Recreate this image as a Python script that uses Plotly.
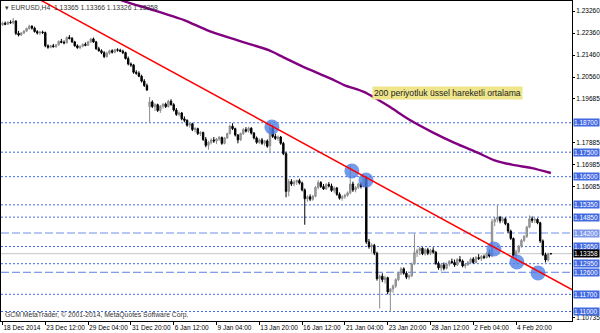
import plotly.graph_objects as go

# ---------------- data (EURUSD H4) ----------------
opens = [1.2270,1.2276,1.2272,1.2280,1.2278,1.2285,1.2235,1.2228,1.2236,1.2244,
1.2255,1.2264,1.2256,1.2242,1.2236,1.2240,1.2238,1.2184,1.2178,1.2184,
1.2180,1.2188,1.2202,1.2198,1.2196,1.2218,1.2214,1.2200,1.2184,1.2176,
1.2182,1.2190,1.2186,1.2200,1.2212,1.2200,1.2172,1.2164,1.2156,1.2140,
1.2154,1.2164,1.2158,1.2168,1.2166,1.2162,1.2156,1.2132,1.2110,1.2106,
1.2076,1.2072,1.2060,1.2040,1.2022,1.1935,1.1955,1.1936,1.1944,1.1920,
1.1938,1.1946,1.1936,1.1958,1.1944,1.1922,1.1904,1.1910,1.1886,1.1880,
1.1860,1.1866,1.1842,1.1846,1.1826,1.1830,1.1802,1.1778,1.1790,1.1800,
1.1796,1.1804,1.1810,1.1786,1.1808,1.1826,1.1856,1.1846,1.1820,1.1800,
1.1826,1.1842,1.1836,1.1848,1.1828,1.1808,1.1790,1.1800,1.1786,1.1796,
1.1776,1.1850,1.1814,1.1806,1.1812,1.1786,1.1744,1.1590,1.1630,1.1620,
1.1628,1.1634,1.1624,1.1596,1.1560,1.1568,1.1558,1.1570,1.1606,1.1626,
1.1610,1.1600,1.1618,1.1612,1.1594,1.1604,1.1578,1.1562,1.1568,1.1574,
1.1584,1.1620,1.1596,1.1606,1.1620,1.1610,1.1648,1.1384,1.1364,1.1370,
1.1338,1.1234,1.1244,1.1230,1.1238,1.1180,1.1192,1.1204,1.1230,1.1256,
1.1274,1.1256,1.1240,1.1246,1.1294,1.1340,1.1348,1.1358,1.1336,1.1352,
1.1338,1.1350,1.1342,1.1296,1.1278,1.1290,1.1276,1.1294,1.1304,1.1300,
1.1290,1.1312,1.1306,1.1286,1.1292,1.1300,1.1314,1.1300,1.1320,1.1316,
1.1324,1.1320,1.1338,1.1326,1.1466,1.1476,1.1484,1.1470,1.1478,1.1458,
1.1428,1.1398,1.1328,1.1344,1.1366,1.1390,1.1406,1.1444,1.1478,1.1472,
1.1476,1.1462,1.1388,1.1332,1.1310,1.13365]

highs = [1.2282,1.2283,1.2284,1.2288,1.2298,1.2288,1.2245,1.2240,1.2248,1.2258,
1.2270,1.2268,1.2262,1.2248,1.2244,1.2246,1.2242,1.2190,1.2188,1.2192,
1.2190,1.2206,1.2212,1.2206,1.2222,1.2228,1.2220,1.2204,1.2190,1.2186,
1.2194,1.2198,1.2204,1.2216,1.2218,1.2204,1.2180,1.2170,1.2162,1.2160,
1.2168,1.2170,1.2172,1.2174,1.2172,1.2168,1.2160,1.2140,1.2116,1.2110,
1.2084,1.2080,1.2066,1.2048,1.2030,1.1975,1.1962,1.1950,1.1948,1.1942,
1.1950,1.1952,1.1964,1.1966,1.1950,1.1930,1.1916,1.1914,1.1896,1.1884,
1.1872,1.1870,1.1852,1.1850,1.1836,1.1834,1.1812,1.1796,1.1806,1.1812,
1.1808,1.1816,1.1814,1.1812,1.1830,1.1862,1.1868,1.1850,1.1824,1.1830,
1.1848,1.1852,1.1854,1.1852,1.1832,1.1814,1.1806,1.1808,1.1800,1.1802,
1.1874,1.1862,1.1826,1.1818,1.1816,1.1792,1.1752,1.1640,1.1640,1.1636,
1.1638,1.1642,1.1630,1.1602,1.1574,1.1578,1.1576,1.1612,1.1636,1.1632,
1.1620,1.1624,1.1628,1.1622,1.1610,1.1608,1.1586,1.1574,1.1580,1.1590,
1.1698,1.1630,1.1612,1.1626,1.1628,1.1660,1.1652,1.1396,1.1378,1.1376,
1.1344,1.1250,1.1256,1.1246,1.1242,1.1196,1.1210,1.1236,1.1262,1.1282,
1.1280,1.1264,1.1252,1.1300,1.1418,1.1356,1.1364,1.1362,1.1358,1.1360,
1.1356,1.1362,1.1346,1.1304,1.1296,1.1300,1.1300,1.1310,1.1316,1.1312,
1.1318,1.1326,1.1312,1.1296,1.1306,1.1320,1.1322,1.1326,1.1334,1.1330,
1.1332,1.1344,1.1352,1.1478,1.1486,1.1534,1.1490,1.1484,1.1484,1.1462,
1.1434,1.1402,1.1352,1.1372,1.1396,1.1412,1.1450,1.1492,1.1488,1.1482,
1.1480,1.1466,1.1394,1.1340,1.1340,1.13366]

lows = [1.2265,1.2268,1.2270,1.2274,1.2272,1.2228,1.2222,1.2224,1.2232,1.2240,
1.2250,1.2250,1.2238,1.2230,1.2228,1.2232,1.2178,1.2172,1.2174,1.2178,
1.2176,1.2184,1.2194,1.2190,1.2194,1.2210,1.2196,1.2180,1.2172,1.2170,
1.2178,1.2182,1.2184,1.2196,1.2196,1.2168,1.2160,1.2150,1.2134,1.2136,
1.2148,1.2152,1.2154,1.2160,1.2158,1.2150,1.2128,1.2104,1.2098,1.2070,
1.2066,1.2056,1.2034,1.2016,1.2000,1.1870,1.1930,1.1918,1.1914,1.1910,
1.1928,1.1930,1.1932,1.1940,1.1916,1.1898,1.1896,1.1880,1.1872,1.1854,
1.1850,1.1836,1.1830,1.1820,1.1816,1.1796,1.1770,1.1760,1.1782,1.1788,
1.1784,1.1796,1.1780,1.1782,1.1804,1.1822,1.1840,1.1814,1.1786,1.1796,
1.1820,1.1830,1.1830,1.1822,1.1802,1.1784,1.1784,1.1780,1.1776,1.1768,
1.1746,1.1808,1.1800,1.1796,1.1780,1.1738,1.1566,1.1570,1.1612,1.1610,
1.1616,1.1618,1.1590,1.1454,1.1548,1.1550,1.1552,1.1566,1.1598,1.1604,
1.1596,1.1596,1.1606,1.1588,1.1584,1.1572,1.1556,1.1552,1.1560,1.1568,
1.1578,1.1588,1.1586,1.1600,1.1602,1.1606,1.1376,1.1356,1.1340,1.1330,
1.1226,1.1112,1.1220,1.1214,1.1170,1.1098,1.1176,1.1196,1.1224,1.1248,
1.1250,1.1232,1.1230,1.1240,1.1290,1.1322,1.1330,1.1330,1.1328,1.1330,
1.1330,1.1336,1.1290,1.1270,1.1264,1.1268,1.1272,1.1284,1.1294,1.1282,
1.1286,1.1300,1.1280,1.1276,1.1286,1.1296,1.1294,1.1296,1.1310,1.1306,
1.1314,1.1316,1.1320,1.1322,1.1448,1.1464,1.1460,1.1462,1.1452,1.1420,
1.1392,1.1320,1.1300,1.1338,1.1360,1.1384,1.1400,1.1440,1.1462,1.1460,
1.1456,1.1380,1.1326,1.1300,1.1304,1.13326]

closes = [1.2276,1.2272,1.2280,1.2278,1.2285,1.2235,1.2228,1.2236,1.2244,1.2255,
1.2264,1.2256,1.2242,1.2236,1.2240,1.2238,1.2184,1.2178,1.2184,1.2180,
1.2188,1.2202,1.2198,1.2196,1.2218,1.2214,1.2200,1.2184,1.2176,1.2182,
1.2190,1.2186,1.2200,1.2212,1.2200,1.2172,1.2164,1.2156,1.2140,1.2154,
1.2164,1.2158,1.2168,1.2166,1.2162,1.2156,1.2132,1.2110,1.2106,1.2076,
1.2072,1.2060,1.2040,1.2022,1.2004,1.1955,1.1936,1.1944,1.1920,1.1938,
1.1946,1.1936,1.1958,1.1944,1.1922,1.1904,1.1910,1.1886,1.1880,1.1860,
1.1866,1.1842,1.1846,1.1826,1.1830,1.1802,1.1778,1.1790,1.1800,1.1796,
1.1804,1.1810,1.1786,1.1808,1.1826,1.1856,1.1846,1.1820,1.1800,1.1826,
1.1842,1.1836,1.1848,1.1828,1.1808,1.1790,1.1800,1.1786,1.1796,1.1774,
1.1850,1.1814,1.1806,1.1812,1.1786,1.1744,1.1590,1.1630,1.1620,1.1628,
1.1634,1.1624,1.1596,1.1560,1.1568,1.1558,1.1570,1.1606,1.1626,1.1610,
1.1600,1.1618,1.1612,1.1594,1.1604,1.1578,1.1562,1.1568,1.1574,1.1584,
1.1620,1.1596,1.1606,1.1620,1.1610,1.1648,1.1384,1.1364,1.1370,1.1338,
1.1234,1.1244,1.1230,1.1238,1.1180,1.1192,1.1204,1.1230,1.1256,1.1274,
1.1256,1.1240,1.1246,1.1294,1.1340,1.1348,1.1358,1.1336,1.1352,1.1338,
1.1350,1.1342,1.1296,1.1278,1.1290,1.1276,1.1294,1.1304,1.1300,1.1290,
1.1312,1.1306,1.1286,1.1292,1.1300,1.1314,1.1300,1.1320,1.1316,1.1324,
1.1320,1.1338,1.1326,1.1466,1.1476,1.1484,1.1470,1.1478,1.1458,1.1428,
1.1398,1.1328,1.1344,1.1366,1.1390,1.1406,1.1444,1.1478,1.1472,1.1476,
1.1462,1.1388,1.1332,1.1310,1.1336,1.13358]

bar_index = list(range(len(closes)))

# time-axis labels (every 16 H4 bars)
tick_bars = [0, 16, 32, 48, 64, 80, 96, 112, 128, 144, 160, 176, 192]
tick_labels = ["18 Dec 2014", "23 Dec 12:00", "29 Dec 04:00", "31 Dec 20:00",
               "6 Jan 12:00", "9 Jan 04:00", "13 Jan 20:00", "16 Jan 12:00",
               "21 Jan 04:00", "23 Jan 20:00", "28 Jan 12:00", "2 Feb 04:00",
               "4 Feb 20:00"]

# price scale labels
scale_prices = [1.23260, 1.22360, 1.21460, 1.20560, 1.19685, 1.17885,
                1.16985, 1.16085, 1.10735]

# horizontal support / resistance levels
dotted_levels = [1.18700, 1.17500, 1.16500, 1.15350, 1.14850, 1.13650,
                 1.12950, 1.11700, 1.11000]
dashed_light_level = 1.14200
dashed_level = 1.12600
last_price = 1.13358

# 200-period EMA
ema_bar = [44, 46.2, 56.3, 67.9, 76.4, 85.0, 99.3, 104.9, 113.5, 122.1, 127.7,
           135.1, 139.3, 144.9, 152.3, 160.6, 169.2, 177.8, 183.7, 190.8,
           197.9, 205]
ema_val = [1.2372, 1.2363, 1.2330, 1.2289, 1.2248, 1.2216, 1.2167, 1.2138,
           1.2093, 1.2053, 1.2024, 1.1996, 1.1971, 1.1934, 1.1881, 1.1832,
           1.1787, 1.1747, 1.1718, 1.1698, 1.1685, 1.1665]

# trend line anchors
trend_bar = [10.0, 214.0]
trend_val = [1.23957, 1.11825]

# touch points (blue circles)
touch_bar = [100.7, 130.6, 135.9, 183.7, 192.3, 200.2]
touch_val = [1.1853, 1.1673, 1.1636, 1.1355, 1.1302, 1.1257]

ema_label = "200 periyotluk üssel hareketli ortalama"
ema_label_bar = 138.1
ema_label_val = 1.1993

# ---------------- figure ----------------
FONT = "Liberation Sans, Arial, sans-serif"
BLUE = "#4169E1"

fig = go.Figure()

fig.add_trace(go.Candlestick(
    x=bar_index, open=opens, high=highs, low=lows, close=closes,
    increasing=dict(line=dict(color="#8c8c8c", width=1), fillcolor="#a6a6a6"),
    decreasing=dict(line=dict(color="#000000", width=1), fillcolor="#000000"),
    hoverinfo="skip", showlegend=False))

fig.add_trace(go.Scatter(
    x=touch_bar, y=touch_val, mode="markers",
    marker=dict(size=15, color="rgba(75,125,230,0.78)", line=dict(width=0)),
    hoverinfo="skip", showlegend=False))

fig.add_trace(go.Scatter(
    x=trend_bar, y=trend_val, mode="lines",
    line=dict(color="#ff0000", width=1.5),
    hoverinfo="skip", showlegend=False))

fig.add_trace(go.Scatter(
    x=ema_bar, y=ema_val, mode="lines",
    line=dict(color="#800080", width=2.4, shape="spline", smoothing=0.6),
    hoverinfo="skip", showlegend=False))

shapes = []
for lv in dotted_levels:
    shapes.append(dict(type="line", xref="paper", x0=0, x1=1, yref="y", y0=lv, y1=lv,
                       line=dict(color=BLUE, width=1, dash="2px,2px"), layer="below"))
shapes.append(dict(type="line", xref="paper", x0=0, x1=1, yref="y",
                   y0=dashed_light_level, y1=dashed_light_level,
                   line=dict(color="#9fb5f0", width=1.6, dash="8px,3px"), layer="below"))
shapes.append(dict(type="line", xref="paper", x0=0, x1=1, yref="y",
                   y0=dashed_level, y1=dashed_level,
                   line=dict(color="#5f80e4", width=1, dash="8px,3px"), layer="below"))
shapes.append(dict(type="line", xref="paper", x0=0, x1=1, yref="y",
                   y0=last_price, y1=last_price,
                   line=dict(color="#c4c4c4", width=1), layer="below"))

annotations = []
for lv in dotted_levels + [dashed_light_level, dashed_level]:
    bg = "#7c98ea" if lv == dashed_light_level else BLUE
    annotations.append(dict(x=1, xref="paper", xanchor="left", xshift=1,
                            y=lv, yref="y", yanchor="middle",
                            text=f"{lv:.5f}", showarrow=False,
                            font=dict(family=FONT, size=6.5, color="white"),
                            bgcolor=bg, borderpad=0, width=25, height=7, align="left"))
annotations.append(dict(x=1, xref="paper", xanchor="left", xshift=1,
                        y=last_price, yref="y", yanchor="middle",
                        text=f"{last_price:.5f}", showarrow=False,
                        font=dict(family=FONT, size=6.5, color="white"),
                        bgcolor="#000000", borderpad=0, width=25, height=7, align="left"))

annotations.append(dict(x=ema_label_bar, y=ema_label_val, xref="x", yref="y",
                        xanchor="left", yanchor="middle", text=ema_label,
                        showarrow=False, bgcolor="#efe68c", borderpad=1,
                        font=dict(family=FONT, size=8.6, color="#222222")))

annotations.append(dict(x=0.004, y=0.981, xref="paper", yref="paper",
                        xanchor="left", yanchor="middle",
                        text="▾ EURUSD,H4  1.13365 1.13366 1.13326 1.13358",
                        showarrow=False,
                        font=dict(family=FONT, size=6.8, color="#333333")))
annotations.append(dict(x=0.004, y=0.019, xref="paper", yref="paper",
                        xanchor="left", yanchor="middle",
                        text="GCM MetaTrader, © 2001-2014, MetaQuotes Software Corp.",
                        showarrow=False,
                        font=dict(family=FONT, size=6.8, color="#333333")))

fig.update_layout(
    width=600, height=333,
    margin=dict(l=1, r=28, t=1, b=12, autoexpand=False),
    plot_bgcolor="white", paper_bgcolor="white",
    showlegend=False,
    boxgap=0.25,
    shapes=shapes, annotations=annotations,
    xaxis=dict(range=[-0.56, 212.9], tickmode="array", tickvals=tick_bars,
               ticktext=tick_labels, ticklabelposition="outside right",
               tickangle=0, automargin=False,
               ticks="outside", ticklen=3, tickcolor="#000", tickwidth=1,
               tickfont=dict(family=FONT, size=6.5, color="#000"),
               showgrid=False, zeroline=False, showline=True, linecolor="#000",
               linewidth=1, mirror=True, rangeslider=dict(visible=False),
               fixedrange=True),
    yaxis=dict(range=[1.10612, 1.23668], side="right", tickmode="array",
               tickvals=scale_prices, ticktext=[f"{p:.5f}" for p in scale_prices],
               ticks="outside", ticklen=2, tickcolor="#000", automargin=False,
               tickfont=dict(family=FONT, size=6.5, color="#000"),
               showgrid=False, zeroline=False, showline=True, linecolor="#000",
               linewidth=1, mirror=True, fixedrange=True),
)

fig.write_html("out.html")
